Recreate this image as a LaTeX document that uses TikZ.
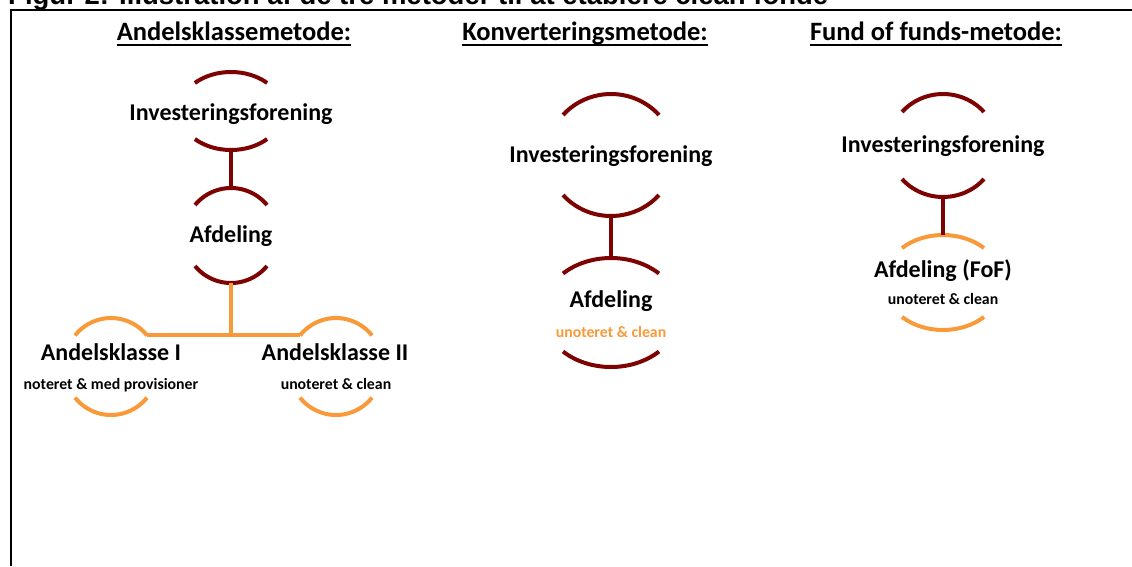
\documentclass[tikz,border=0pt]{standalone}
\usepackage{fontspec}
\setmainfont{Carlito}
\newfontfamily\titlefont{Liberation Sans}
\usetikzlibrary{calc}
\definecolor{maroon}{RGB}{125,3,3}
\definecolor{orng}{RGB}{248,154,58}
\newcommand{\ellarcs}[7]{%
  \coordinate (#1) at (#2,#3);
  \coordinate (#1-n) at (#2,#3+#5);
  \coordinate (#1-s) at (#2,#3-#5);
  \coordinate (#1-ne) at ($(#1)+({#4*cos(#6)},{#5*sin(#6)})$);
  \coordinate (#1-nw) at ($(#1)+({-#4*cos(#6)},{#5*sin(#6)})$);
  \coordinate (#1-sw) at ($(#1)+({-#4*cos(#6)},{-#5*sin(#6)})$);
  \draw[arcline,#7] (#1-ne) arc[start angle=#6,end angle=180-#6,x radius=#4pt,y radius=#5pt];
  \draw[arcline,#7] (#1-sw) arc[start angle=180+#6,end angle=360-#6,x radius=#4pt,y radius=#5pt];
}
\begin{document}
\begin{tikzpicture}[x=1pt,y=1pt,
  arcline/.style={line width=4pt},
  conn/.style={line width=4pt},
  frame/.style={line width=2.5pt,black},
  lbl/.style={anchor=base,inner sep=0pt,font=\bfseries\fontsize{24}{28}\selectfont},
  sml/.style={anchor=base,inner sep=0pt,font=\bfseries\fontsize{15.8}{18}\selectfont},
  hdr/.style={anchor=base,inner sep=0pt,font=\bfseries\fontsize{26.5}{30}\selectfont},
  uline/.style={line width=2pt}]
\useasboundingbox (0,0) rectangle (1132,-566);
\clip (0,0) rectangle (1132,-566);
\fill[white] (0,0) rectangle (1132,-566);
% title (cut off at top)
\node[anchor=base west,inner sep=0pt,font=\titlefont\bfseries\fontsize{27.5}{30}\selectfont] (title) at (8,-4) {Figur 2: Illustration af de tre metoder til at etablere clean fonde};
% frame
\coordinate (fr-c) at (11,-10);
\coordinate (fr-r) at (1132,-10);
\coordinate (fr-b) at (11,-566);
\draw[frame] (fr-r) -- (fr-c) -- (fr-b);
% headers
\node[hdr] (h1) at (234,-40) {Andelsklassemetode:};
\node[hdr] (h2) at (585,-40) {Konverteringsmetode:};
\node[hdr] (h3) at (936,-40) {Fund of funds-metode:};
\foreach \h in {h1,h2,h3}{
  \draw[uline] ($(\h.base west)+(0,-5)$) -- ($(\h.base east)+(0,-5)$);
}
% ---- left column
\ellarcs{inv1}{231}{-111}{52}{39}{46}{maroon}
\ellarcs{afd1}{231}{-235.5}{47}{47.5}{40}{maroon}
\ellarcs{ak1}{111}{-366.5}{47}{48.5}{40}{orng}
\ellarcs{ak2}{336}{-366.5}{47}{48.5}{40}{orng}
\node[lbl] (t-inv1) at (231,-120) {Investeringsforening};
\node[lbl] (t-afd1) at (231,-242) {Afdeling};
\node[lbl] (t-ak1) at (111,-360) {Andelsklasse I};
\node[sml] (t-ak1s) at (111,-389) {noteret \& med provisioner};
\node[lbl] (t-ak2) at (335,-360) {Andelsklasse II};
\node[sml] (t-ak2s) at (336,-389) {unoteret \& clean};
\draw[conn,maroon] (inv1-s) -- (afd1-n);
\coordinate (jn) at (231,-336.5);
\draw[conn,orng] (afd1-s) -- (jn);
\draw[conn,orng] (ak1-ne) -- (ak2-nw);
% ---- middle column
\ellarcs{inv2}{611}{-155}{63.6}{61}{41}{maroon}
\ellarcs{afd2}{611}{-312.5}{68.7}{54.5}{45.7}{maroon}
\node[lbl] (t-inv2) at (611,-162) {Investeringsforening};
\node[lbl] (t-afd2) at (611,-307) {Afdeling};
\node[sml,text=orng] (t-afd2s) at (611,-337) {unoteret \& clean};
\draw[conn,maroon] (inv2-s) -- (afd2-n);
% ---- right column
\ellarcs{inv3}{943}{-145.5}{54}{51.5}{40.6}{maroon}
\ellarcs{afd3}{943}{-282.5}{59.6}{47.5}{46.5}{orng}
\node[lbl] (t-inv3) at (943,-152) {Investeringsforening};
\node[lbl] (t-afd3) at (943,-277) {Afdeling (FoF)};
\node[sml] (t-afd3s) at (943,-304) {unoteret \& clean};
\draw[conn,maroon] (inv3-s) -- (afd3-n);
\end{tikzpicture}
\end{document}
